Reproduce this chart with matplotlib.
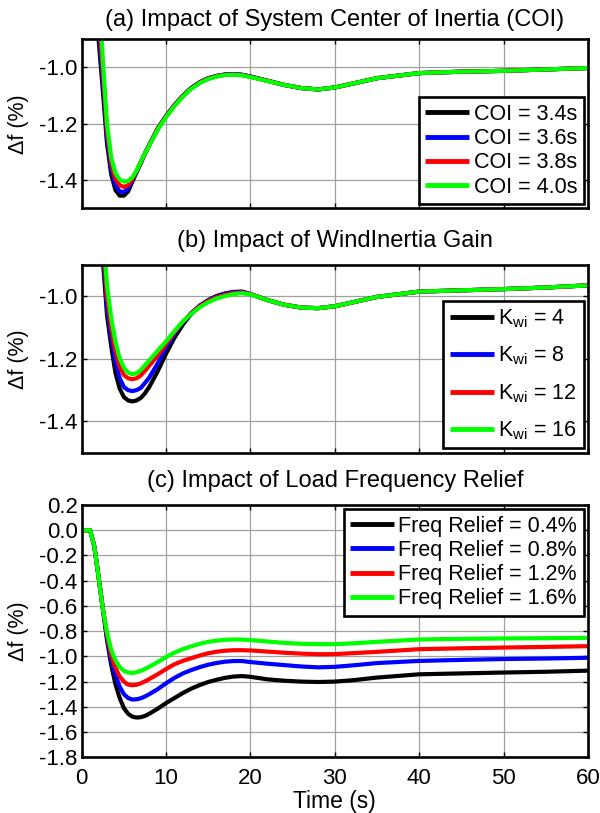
import numpy as np
import matplotlib
matplotlib.use('Agg')
import matplotlib.pyplot as plt

plt.rcParams['font.family'] = ['Liberation Sans', 'DejaVu Sans']
plt.rcParams['mathtext.default'] = 'regular'
plt.rcParams['axes.unicode_minus'] = False

# time base (s), shared by all simulation runs
t = [0, 0.5, 1, 1.5, 2, 2.5, 3, 3.5, 4, 4.5, 5, 5.5, 6, 6.5, 7, 7.5, 8,
     9, 10, 11, 12, 13, 14, 15, 16, 17, 18, 19, 20,
     22, 24, 26, 28, 30, 32, 35, 40, 45, 50, 55, 60]

# (a) system centre of inertia
coi_labels = ['COI = 3.4s', 'COI = 3.6s', 'COI = 3.8s', 'COI = 4.0s']
coi_34 = [0, 0, -0.10, -0.45, -0.90, -1.08, -1.27, -1.38, -1.435, -1.455, -1.455, -1.44, -1.405, -1.372, -1.34, -1.305, -1.275,
          -1.217, -1.172, -1.133, -1.100, -1.072, -1.052, -1.038, -1.030, -1.025, -1.024, -1.026, -1.032,
          -1.047, -1.062, -1.073, -1.078, -1.071, -1.058, -1.038, -1.020, -1.015, -1.012, -1.007, -1.002]
coi_36 = [0, 0, -0.09, -0.42, -0.85, -1.05, -1.25, -1.36, -1.418, -1.44, -1.442, -1.43, -1.40, -1.37, -1.338, -1.305, -1.276,
          -1.218, -1.173, -1.134, -1.101, -1.073, -1.053, -1.039, -1.030, -1.025, -1.024, -1.026, -1.032,
          -1.047, -1.062, -1.073, -1.078, -1.071, -1.058, -1.038, -1.020, -1.015, -1.012, -1.007, -1.002]
coi_38 = [0, 0, -0.085, -0.40, -0.80, -1.01, -1.225, -1.34, -1.396, -1.418, -1.424, -1.418, -1.396, -1.367, -1.336, -1.305, -1.277,
          -1.219, -1.174, -1.135, -1.102, -1.074, -1.054, -1.040, -1.031, -1.026, -1.025, -1.027, -1.033,
          -1.047, -1.062, -1.073, -1.078, -1.071, -1.058, -1.038, -1.020, -1.015, -1.012, -1.007, -1.002]
coi_40 = [0, 0, -0.08, -0.38, -0.70, -0.97, -1.20, -1.32, -1.375, -1.398, -1.405, -1.403, -1.39, -1.366, -1.335, -1.305, -1.278,
          -1.221, -1.176, -1.137, -1.103, -1.075, -1.055, -1.041, -1.032, -1.027, -1.026, -1.028, -1.034,
          -1.048, -1.062, -1.073, -1.078, -1.071, -1.058, -1.038, -1.020, -1.015, -1.012, -1.007, -1.002]

# (b) wind inertia gain
kwi_labels = ['K$_{wi}$ = 4', 'K$_{wi}$ = 8', 'K$_{wi}$ = 12', 'K$_{wi}$ = 16']
kwi_4 = [0, 0, -0.05, -0.30, -0.60, -0.88, -1.06, -1.16, -1.245, -1.295, -1.322, -1.333, -1.336, -1.333, -1.325, -1.310, -1.290,
         -1.240, -1.183, -1.132, -1.090, -1.056, -1.030, -1.012, -0.999, -0.991, -0.986, -0.985, -0.993,
         -1.012, -1.027, -1.036, -1.038, -1.032, -1.020, -1.002, -0.985, -0.981, -0.977, -0.972, -0.965]
kwi_8 = [0, 0, -0.05, -0.29, -0.58, -0.85, -1.03, -1.13, -1.21, -1.262, -1.29, -1.30, -1.303, -1.30, -1.293, -1.277, -1.26,
         -1.215, -1.163, -1.12, -1.083, -1.053, -1.03, -1.013, -1.0, -0.992, -0.987, -0.986, -0.993,
         -1.012, -1.027, -1.036, -1.038, -1.032, -1.020, -1.002, -0.985, -0.981, -0.977, -0.972, -0.965]
kwi_12 = [0, 0, -0.045, -0.27, -0.55, -0.82, -1.0, -1.1, -1.175, -1.225, -1.252, -1.262, -1.265, -1.262, -1.253, -1.238, -1.222,
          -1.19, -1.152, -1.115, -1.081, -1.054, -1.032, -1.015, -1.003, -0.995, -0.99, -0.988, -0.993,
          -1.012, -1.027, -1.036, -1.038, -1.032, -1.020, -1.002, -0.985, -0.981, -0.977, -0.972, -0.965]
kwi_16 = [0, 0, -0.04, -0.25, -0.52, -0.78, -0.965, -1.07, -1.145, -1.198, -1.228, -1.244, -1.249, -1.246, -1.236, -1.221, -1.205,
          -1.174, -1.144, -1.111, -1.08, -1.056, -1.035, -1.019, -1.007, -0.999, -0.993, -0.99, -0.994,
          -1.012, -1.027, -1.036, -1.038, -1.032, -1.020, -1.002, -0.985, -0.981, -0.977, -0.972, -0.965]

# (c) load frequency relief
rel_labels = ['Freq Relief = 0.4%', 'Freq Relief = 0.8%', 'Freq Relief = 1.2%', 'Freq Relief = 1.6%']
rel_04 = [0, 0, 0, -0.13, -0.37, -0.62, -0.87, -1.07, -1.22, -1.33, -1.41, -1.455, -1.478, -1.485, -1.482, -1.472, -1.455,
          -1.415, -1.37, -1.33, -1.29, -1.255, -1.227, -1.203, -1.185, -1.17, -1.16, -1.156, -1.162,
          -1.182, -1.193, -1.2, -1.203, -1.2, -1.19, -1.168, -1.142, -1.135, -1.128, -1.122, -1.113]
rel_08 = [0, 0, 0, -0.13, -0.37, -0.62, -0.85, -1.03, -1.15, -1.24, -1.30, -1.33, -1.342, -1.34, -1.332, -1.318, -1.30,
          -1.26, -1.213, -1.17, -1.135, -1.108, -1.085, -1.066, -1.052, -1.042, -1.037, -1.037, -1.045,
          -1.058, -1.069, -1.08, -1.087, -1.083, -1.072, -1.053, -1.036, -1.028, -1.021, -1.017, -1.011]
rel_12 = [0, 0, 0, -0.13, -0.37, -0.62, -0.83, -0.99, -1.09, -1.16, -1.20, -1.224, -1.229, -1.225, -1.214, -1.198, -1.18,
          -1.142, -1.10, -1.062, -1.035, -1.014, -0.993, -0.975, -0.963, -0.955, -0.951, -0.951, -0.953,
          -0.962, -0.971, -0.978, -0.983, -0.982, -0.975, -0.964, -0.943, -0.936, -0.93, -0.925, -0.919]
rel_16 = [0, 0, 0, -0.13, -0.37, -0.62, -0.81, -0.95, -1.03, -1.085, -1.115, -1.128, -1.131, -1.126, -1.115, -1.10, -1.083,
          -1.045, -1.005, -0.97, -0.942, -0.92, -0.90, -0.885, -0.875, -0.869, -0.866, -0.867, -0.871,
          -0.882, -0.893, -0.90, -0.903, -0.903, -0.897, -0.885, -0.866, -0.861, -0.858, -0.856, -0.853]

colors = ['#000000', '#0000ff', '#ff0000', '#00ff00']

W, H = 600, 813
fig = plt.figure(figsize=(W / 100, H / 100), dpi=100)


def px_axes(left, top, right, bottom):
    # axes rectangle given in pixel edges measured from the top-left corner
    return fig.add_axes([left / W, 1 - bottom / H, (right - left) / W, (bottom - top) / H])


def style(ax, ylim, yticks, show_x):
    ax.set_xlim(0, 60)
    ax.set_ylim(*ylim)
    ax.set_xticks(np.arange(0, 61, 10))
    ax.set_yticks(yticks)
    ax.set_yticklabels(['%.1f' % v for v in yticks])
    ax.grid(True, color='#a0a0a0', lw=0.9)
    ax.set_axisbelow(True)
    for s in ax.spines.values():
        s.set_linewidth(1.9)
    ax.tick_params(direction='in', top=True, right=True, length=3.5, width=1,
                   labelsize=16, pad=3)
    ax.tick_params(axis='x', pad=8)
    if not show_x:
        ax.tick_params(axis='x', labelbottom=False)
    ax.set_ylabel('\u0394f (%)', fontsize=15.5)
    ax.yaxis.set_label_coords(-0.105, 0.5)


panels = [
    (px_axes(81.7, 39.3, 588, 208.3), [coi_34, coi_36, coi_38, coi_40], coi_labels,
     (-1.5, -0.9), [-1.0, -1.2, -1.4], '(a) Impact of System Center of Inertia (COI)', 26, 'lower right', 0.15),
    (px_axes(81.7, 265, 588, 452.7), [kwi_4, kwi_8, kwi_12, kwi_16], kwi_labels,
     (-1.5, -0.9), [-1.0, -1.2, -1.4], '(b) Impact of WindInertia Gain', 246.5, 'lower right', 0.68),
    (px_axes(81.7, 505, 588, 757.3), [rel_04, rel_08, rel_12, rel_16], rel_labels,
     (-1.8, 0.2), list(np.round(np.arange(0.2, -1.81, -0.2), 1)), '(c) Impact of Load Frequency Relief', 486.5, 'upper right', 0.15),
]

for i, (ax, series, labels, ylim, yticks, title, title_y, loc, spacing) in enumerate(panels):
    for ys, c, lab in zip(series, colors, labels):
        ax.plot(t, ys, color=c, lw=3.0, label=lab, solid_capstyle='butt')
    style(ax, ylim, yticks, show_x=(i == 2))
    fig.text(0.5 * (81.7 + 588) / W, 1 - title_y / H, title, ha='center', va='baseline', fontsize=17)
    leg = ax.legend(loc=loc, fontsize=15.5, fancybox=False, framealpha=1, edgecolor='black',
                    handlelength=2.05, handletextpad=0.2, borderpad=0.3, labelspacing=spacing,
                    borderaxespad=0.2)
    leg.get_frame().set_linewidth(1.9)
    for line in leg.get_lines():
        line.set_linewidth(3.5)

ax_c = panels[2][0]
ax_c.set_xlabel('Time (s)', fontsize=16.5)
ax_c.xaxis.set_label_coords(0.5, -0.13)

plt.savefig('out.png', dpi=100)
